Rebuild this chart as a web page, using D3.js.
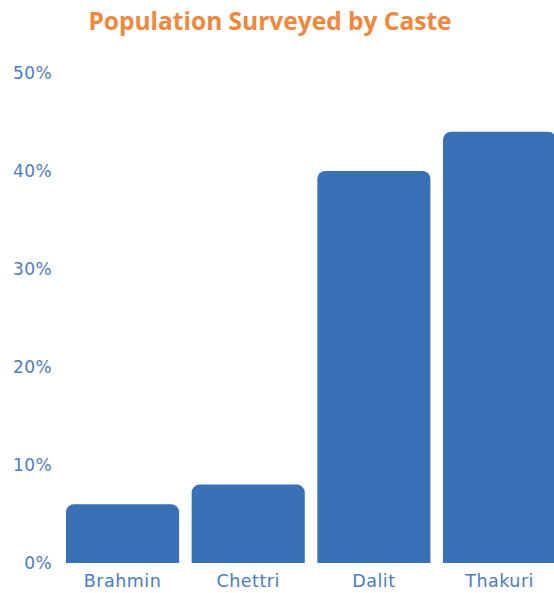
<!DOCTYPE html>
<style>
body { margin: 0; background: #fff; }
svg { display: block; }
.title { font-family: "Open Sans", sans-serif; font-weight: 700; font-size: 24.5px; fill: #f0873a; }
.tick-label { font-family: "DejaVu Sans", sans-serif; font-size: 17px; letter-spacing: 0.4px; fill: #4a7cc2; }
.cat-label { font-family: "DejaVu Sans", sans-serif; font-size: 17.5px; letter-spacing: 0.5px; fill: #4a7cc2; }
</style>
<svg width="554" height="593"></svg>
<script src="https://d3js.org/d3.v7.min.js"></script>
<script>

var castes = ["Brahmin", "Chettri", "Dalit", "Thakuri"];
var shares = [6, 8, 40, 44];
var yTicks = [0, 10, 20, 30, 40, 50];

var svg = d3.select("svg"),
    width = +svg.attr("width"),
    height = +svg.attr("height");

var x = d3.scaleBand()
    .domain(castes)
    .range([59.7, 562.4])
    .paddingInner(0.1)
    .paddingOuter(0.05);

var y = d3.scaleLinear()
    .domain([0, 50])
    .range([563, 73]);

svg.append("text")
   .attr("class", "title")
   .attr("x", 270)
   .attr("y", 30)
   .attr("text-anchor", "middle")
   .text("Population Surveyed by Caste");

// y tick labels, no axis line
svg.selectAll(".tick-label")
   .data(yTicks)
   .enter()
   .append("text")
   .attr("class", "tick-label")
   .attr("x", 52)
   .attr("y", function(d){ return y(d) + 6 })
   .attr("text-anchor", "end")
   .text(function(d){ return d + "%" });

// bars with rounded top corners
function barPath(x0, y0, w, h, r) {
  var p = d3.path();
  p.moveTo(x0, y0 + h);
  p.lineTo(x0, y0 + r);
  p.arcTo(x0, y0, x0 + r, y0, r);
  p.lineTo(x0 + w - r, y0);
  p.arcTo(x0 + w, y0, x0 + w, y0 + r, r);
  p.lineTo(x0 + w, y0 + h);
  p.closePath();
  return p.toString();
}

svg.selectAll(".bar")
   .data(castes)
   .enter()
   .append("path")
   .attr("class", "bar")
   .attr("fill", "#3871b6")
   .attr("d", function(d, i){
     var top = y(shares[i]);
     return barPath(x(d), top, x.bandwidth(), y(0) - top, 8);
   });

svg.selectAll(".cat-label")
   .data(castes)
   .enter()
   .append("text")
   .attr("class", "cat-label")
   .attr("x", function(d){ return x(d) + x.bandwidth() / 2 })
   .attr("y", 587)
   .attr("text-anchor", "middle")
   .text(function(d){ return d });

</script>
